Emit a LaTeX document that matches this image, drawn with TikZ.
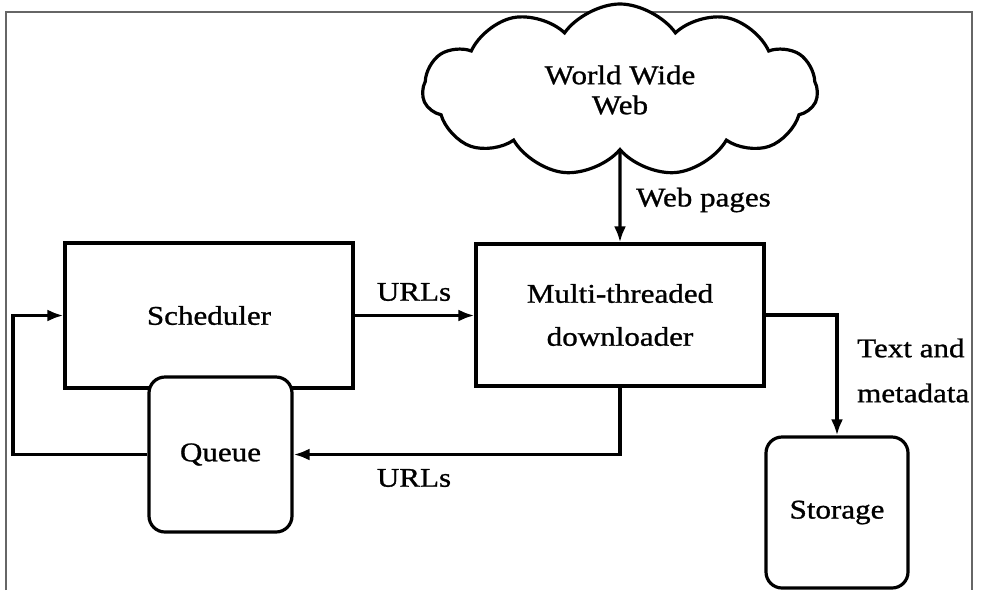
\documentclass[tikz,border=0pt]{standalone}
\usepackage{fontspec}
\setmainfont[FakeStretch=1.15,FakeBold=1]{Liberation Serif}
\usetikzlibrary{shapes.symbols,arrows.meta}
\begin{document}
\begin{tikzpicture}[x=1pt,y=-1pt,
  txt/.style={font=\fontsize{27}{30}\selectfont},
  box/.style={draw, line width=3.2pt, fill=white, inner sep=0pt, txt},
  rbox/.style={box, rounded corners=16pt},
  arr/.style={line width=3.2pt, -{Latex[length=16pt,width=12pt]}},
  lbl/.style={txt, inner sep=0pt}]
\useasboundingbox (0,0) rectangle (987,590);
\draw[black!60, line width=2pt] (6,590) -- (6,12) -- (972,12) -- (972,590);
\node[box, minimum width=288pt, minimum height=145pt] (sch) at (209,315.5) {Scheduler};
\node[rbox, minimum width=143pt, minimum height=155pt] (q) at (220.5,454.5) {Queue};
\node[box, minimum width=288pt, minimum height=142pt, align=center, font=\fontsize{27}{43}\selectfont] (dl) at (620,315) {Multi-threaded\\downloader};
\node[rbox, minimum width=142pt, minimum height=151pt] (st) at (837,512.5) {Storage};
\node[cloud, draw, line width=3.2pt, fill=white, cloud puffs=11, cloud puff arc=110, aspect=2.4,
      minimum width=395pt, minimum height=172pt, align=center, txt, inner sep=0pt] (www) at (620,90) {World Wide\\Web};
\coordinate (lp) at (13,454.5);
\draw[arr] (www.south) -- (dl.north);
\draw[arr] (sch.east) -- (sch.east -| dl.west);
\draw[arr] (dl.south) |- (q.east);
\draw[arr] (q.west) -- (lp) |- (sch.west);
\draw[arr] (dl.east) -| (st.north);
\node[lbl] (u1) at (414,292) {URLs};
\node[lbl] (u2) at (414,478) {URLs};
\node[lbl, anchor=west] (wp) at (636,200) {Web pages};
\node[lbl, anchor=west] (t1) at (857,348) {Text and};
\node[lbl, anchor=west] (t2) at (857,393) {metadata};
\end{tikzpicture}
\end{document}
